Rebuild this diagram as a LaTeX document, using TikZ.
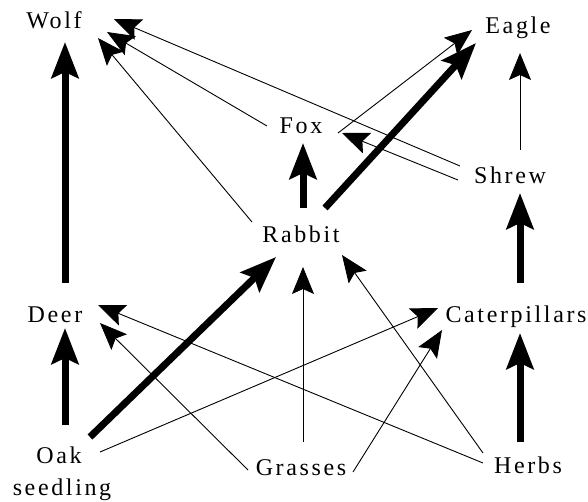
\documentclass[tikz,border=0pt]{standalone}
\usepackage{fontspec}
\setmainfont{Liberation Serif}[LetterSpace=11]
\usetikzlibrary{arrows.meta,calc}

\tikzset{
  species/.style={anchor=base, inner sep=0pt, font=\fontsize{24}{28}\selectfont},
  strong/.style={line width=7pt,
    -{Stealth[length=36pt,width=27pt,inset=6pt]}},
  weak/.style={line width=0.9pt,
    -{Stealth[length=27pt,width=22pt,inset=5pt]}},
}

\begin{document}
\begin{tikzpicture}[x=1pt,y=-1pt]
\useasboundingbox (0,0) rectangle (588,501);

% species labels (placed at their baselines)
\node[species] (wolf)     at (54,28)   {Wolf};
\node[species] (eagle)    at (518,33)  {Eagle};
\node[species] (fox)      at (301,133) {Fox};
\node[species] (shrew)    at (510,183) {Shrew};
\node[species] (rabbit)   at (301,242) {Rabbit};
\node[species] (deer)     at (55,322)  {Deer};
\node[species] (cater)    at (516,322) {Caterpillars};
\node[species] (oak)      at (59,463)  {Oak};
\node[species] (seedling) at (62,495)  {seedling};
\node[species] (grasses)  at (301,475) {Grasses};
\node[species] (herbs)    at (528,473) {Herbs};

% strong feeding links
\draw[strong] ($(deer.base)+(10,-39)$)   -- ($(wolf.base)+(11,14)$);
\draw[strong] ($(oak.base)+(6,-38)$)     -- ($(deer.base)+(10,6)$);
\draw[strong] ($(oak.base)+(31,-26)$)    -- ($(rabbit.base)+(-25,15)$);
\draw[strong] ($(rabbit.base)+(2,-34)$)  -- ($(fox.base)+(2,10)$);
\draw[strong] ($(rabbit.base)+(24,-34)$) -- ($(eagle.base)+(-42,10)$);
\draw[strong] ($(cater.base)+(4,-39)$)   -- ($(shrew.base)+(10,10)$);
\draw[strong] ($(herbs.base)+(-8,-31)$)  -- ($(cater.base)+(4,11)$);

% weak feeding links
\draw[weak] ($(shrew.base)+(10,-33)$)   -- ($(eagle.base)+(2,20)$);
\draw[weak] ($(fox.base)+(-34,-7)$)     -- ($(wolf.base)+(53,4)$);
\draw[weak] ($(rabbit.base)+(-49,-20)$) -- ($(wolf.base)+(44,10)$);
\draw[weak] ($(shrew.base)+(-50,-17)$)  -- ($(wolf.base)+(60,-9)$);
\draw[weak] ($(fox.base)+(37,0)$)       -- ($(eagle.base)+(-46,-3)$);
\draw[weak] ($(shrew.base)+(-52,-3)$)   -- ($(fox.base)+(41,0)$);
\draw[weak] ($(grasses.base)+(2,-33)$)  -- ($(rabbit.base)+(2,25)$);
\draw[weak] ($(herbs.base)+(-45,-20)$)  -- ($(rabbit.base)+(41,13)$);
\draw[weak] ($(oak.base)+(41,-11)$)     -- ($(cater.base)+(-78,-14)$);
\draw[weak] ($(grasses.base)+(52,-3)$)  -- ($(cater.base)+(-74,8)$);
\draw[weak] ($(herbs.base)+(-45,-10)$)  -- ($(deer.base)+(43,-17)$);
\draw[weak] ($(grasses.base)+(-53,-5)$) -- ($(deer.base)+(45,1)$);
\end{tikzpicture}
\end{document}
